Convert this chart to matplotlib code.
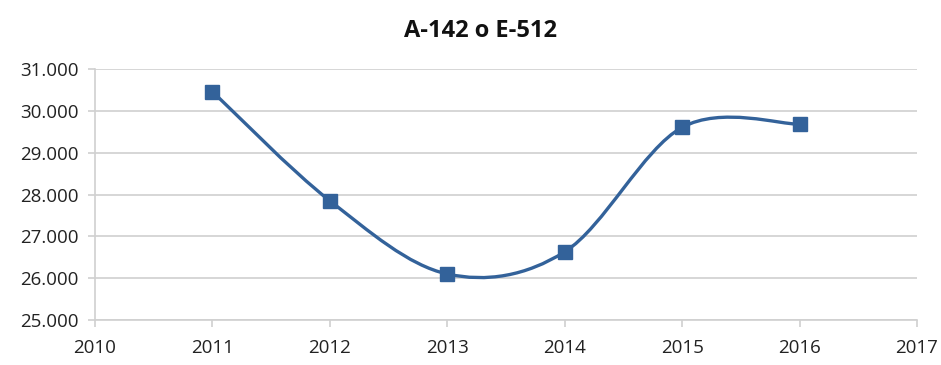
import numpy as np
import matplotlib
matplotlib.use("Agg")
import matplotlib.pyplot as plt
from matplotlib.path import Path
from matplotlib.patches import PathPatch
from matplotlib.ticker import FuncFormatter

years = [2011, 2012, 2013, 2014, 2015, 2016]
values = [30460, 27850, 26100, 26630, 29605, 29680]
title = "A-142 o E-512"

plt.rcParams['font.family'] = ['Open Sans', 'DejaVu Sans']

fig = plt.figure(figsize=(9.41, 3.65), dpi=100)
ax = fig.add_axes([95/941, 1-320/365, (917-95)/941, (320-69)/365])

line_color = '#33629a'
grid_color = '#d0d0d0'

# smoothed line: cubic Bezier segments with Catmull-Rom style control points
x = np.array(years, dtype=float)
y = np.array(values, dtype=float)
verts = [(x[0], y[0])]
codes = [Path.MOVETO]
n = len(x)
for i in range(n - 1):
    p0 = np.array([x[max(i-1, 0)], y[max(i-1, 0)]])
    p1 = np.array([x[i], y[i]])
    p2 = np.array([x[i+1], y[i+1]])
    p3 = np.array([x[min(i+2, n-1)], y[min(i+2, n-1)]])
    c1 = p1 + (p2 - p0) / 6.0
    c2 = p2 - (p3 - p1) / 6.0
    verts += [tuple(c1), tuple(c2), tuple(p2)]
    codes += [Path.CURVE4, Path.CURVE4, Path.CURVE4]
patch = PathPatch(Path(verts, codes), facecolor='none', edgecolor=line_color,
                  lw=2.4, zorder=3, capstyle='round', joinstyle='round')
ax.add_patch(patch)
ax.plot(years, values, linestyle='none', marker='s', markersize=10,
        color=line_color, zorder=4)

ax.set_xlim(2010, 2017)
ax.set_ylim(25000, 31000)
ax.set_xticks(range(2010, 2018))
ax.set_yticks(range(25000, 31001, 1000))
ax.yaxis.set_major_formatter(FuncFormatter(lambda v, p: f"{int(v):,}".replace(",", ".")))

ax.grid(axis='y', color=grid_color, lw=1.2)
ax.set_axisbelow(True)
for s in ['top', 'right']:
    ax.spines[s].set_visible(False)
for s in ['left', 'bottom']:
    ax.spines[s].set_color(grid_color)
    ax.spines[s].set_linewidth(1.2)
ax.tick_params(axis='both', colors=grid_color, labelcolor='#222222',
               labelsize=13.5, length=5, width=1.2)
ax.tick_params(axis='y', pad=7)
ax.tick_params(axis='x', pad=9)

fig.text(480/941, 1-31/365, title, ha='center', va='center',
         fontsize=17, fontweight='bold', color='#111111')

fig.savefig("out.png", dpi=100)
